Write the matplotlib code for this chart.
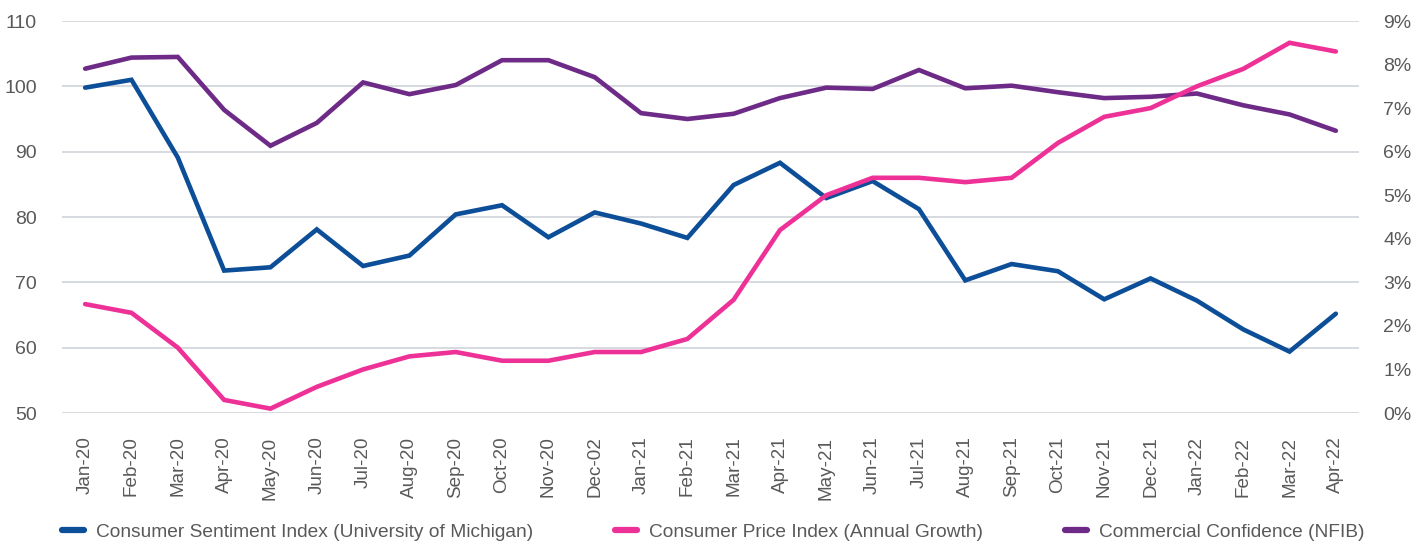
import matplotlib
matplotlib.use("Agg")
import matplotlib.pyplot as plt
from matplotlib.ticker import FuncFormatter

months = ["Jan-20", "Feb-20", "Mar-20", "Apr-20", "May-20", "Jun-20", "Jul-20",
          "Aug-20", "Sep-20", "Oct-20", "Nov-20", "Dec-02", "Jan-21", "Feb-21",
          "Mar-21", "Apr-21", "May-21", "Jun-21", "Jul-21", "Aug-21", "Sep-21",
          "Oct-21", "Nov-21", "Dec-21", "Jan-22", "Feb-22", "Mar-22", "Apr-22"]

sentiment = [99.8, 101.0, 89.1, 71.8, 72.3, 78.1, 72.5, 74.1, 80.4, 81.8, 76.9,
             80.7, 79.0, 76.8, 84.9, 88.3, 82.9, 85.5, 81.2, 70.3, 72.8, 71.7,
             67.4, 70.6, 67.2, 62.8, 59.4, 65.2]

cpi = [2.5, 2.3, 1.5, 0.3, 0.1, 0.6, 1.0, 1.3, 1.4, 1.2, 1.2, 1.4, 1.4, 1.7,
       2.6, 4.2, 5.0, 5.4, 5.4, 5.3, 5.4, 6.2, 6.8, 7.0, 7.5, 7.9, 8.5, 8.3]

nfib = [102.7, 104.4, 104.5, 96.4, 90.9, 94.4, 100.6, 98.8, 100.2, 104.0, 104.0,
        101.4, 95.9, 95.0, 95.8, 98.2, 99.8, 99.6, 102.5, 99.7, 100.1, 99.1,
        98.2, 98.4, 98.9, 97.1, 95.7, 93.2]

series_names = ["Consumer Sentiment Index (University of Michigan)",
                "Consumer Price Index (Annual Growth)",
                "Commercial Confidence (NFIB)"]

left_ticks = [50, 60, 70, 80, 90, 100, 110]
right_ticks = [0, 1, 2, 3, 4, 5, 6, 7, 8, 9]

BLUE = "#0C4E97"
PINK = "#EE3197"
PURPLE = "#6D2A87"
TXT = "#595959"
GRID = "#D0D3D8"

plt.rcParams['font.family'] = ['Liberation Sans', 'DejaVu Sans']

fig = plt.figure(figsize=(14.25, 5.45), dpi=100)
ax = fig.add_axes([62/1425, 1-413/545, (1359-62)/1425, (413-21)/545])
ax2 = ax.twinx()

x = list(range(len(months)))
l1, = ax.plot(x, sentiment, color=BLUE, lw=3.3, solid_capstyle='round', solid_joinstyle='miter', zorder=3)
l3, = ax.plot(x, nfib, color=PURPLE, lw=3.3, solid_capstyle='round', solid_joinstyle='miter', zorder=3)
l2, = ax2.plot(x, cpi, color=PINK, lw=3.3, solid_capstyle='round', solid_joinstyle='miter', zorder=3)

ax.set_xlim(-0.5, len(months) - 0.5)
ax.set_ylim(50, 110)
ax.set_yticks(left_ticks)
ax2.set_ylim(0, 9)
ax2.set_yticks(right_ticks)
ax2.yaxis.set_major_formatter(FuncFormatter(lambda v, p: f"{int(v)}%"))

ax.set_xticks(x)
ax.set_xticklabels(months, rotation=90)

ax.grid(axis='y', color=GRID, lw=1.2)
ax.set_axisbelow(True)

for a in (ax, ax2):
    for s in a.spines.values():
        s.set_visible(False)
    a.tick_params(length=0, colors=TXT, labelsize=14)

ax.tick_params(axis='y', pad=18)
ax2.tick_params(axis='y', pad=17.3)
ax.tick_params(axis='x', pad=17, labelsize=13.6)

leg = fig.legend([l1, l2, l3], series_names, loc='center left',
                 bbox_to_anchor=(62/1425, 1-532/545), ncol=3, frameon=False,
                 fontsize=13.8, handlelength=1.15, handletextpad=0.6,
                 columnspacing=4.3, labelcolor=TXT, borderaxespad=0, borderpad=0)
for h in leg.get_lines():
    h.set_linewidth(4.5)
    h.set_solid_capstyle('round')

fig.savefig("out.png", dpi=100)
